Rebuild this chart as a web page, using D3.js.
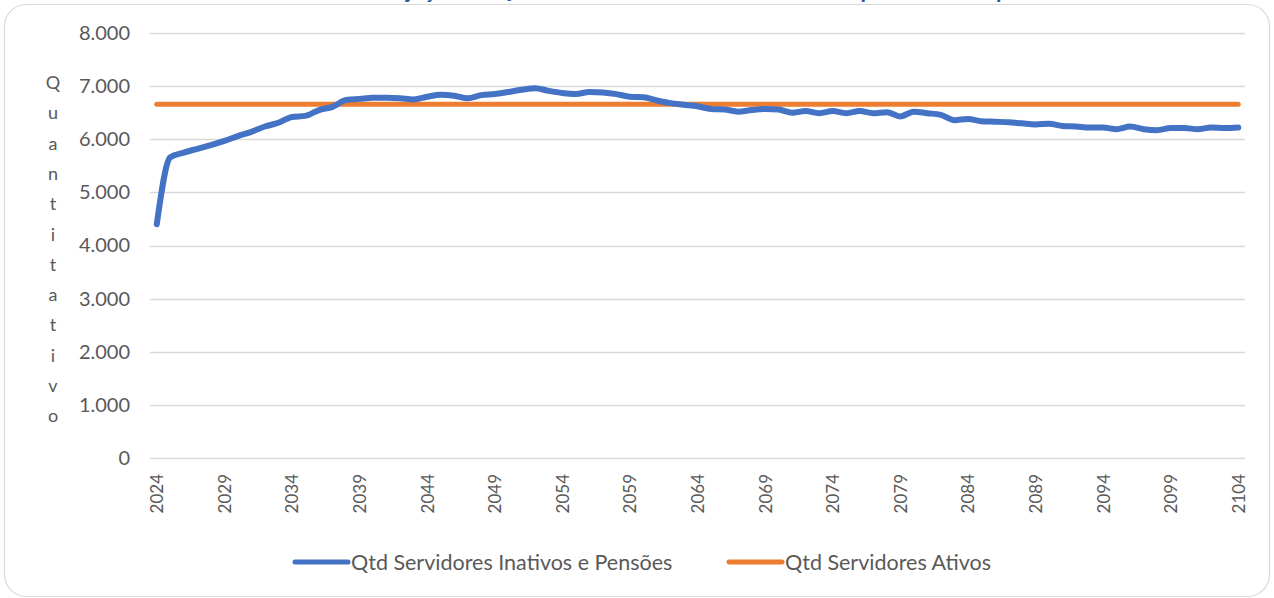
<!DOCTYPE html>
<html>
<head>
<meta charset="utf-8">
<script src="https://cdn.jsdelivr.net/npm/d3@7"></script>
<style>
  body { margin: 0; background: #fff; }
  svg { display: block; font-family: Lato, "Open Sans", sans-serif; }
</style>
</head>
<body>
<div class="chart"></div>
<script>
// anos 2024..2104
var years = d3.range(2024, 2105);

var inativos = [
  4400, 5660, 5750, 5820, 5890, 5970, 6060, 6140, 6240, 6310,
  6420, 6440, 6550, 6610, 6740, 6760, 6780, 6780, 6770, 6750,
  6800, 6840, 6820, 6770, 6830, 6850, 6890, 6930, 6960, 6910,
  6870, 6850, 6890, 6880, 6850, 6800, 6790, 6730, 6680, 6650,
  6620, 6570, 6560, 6520, 6550, 6570, 6560, 6500, 6530, 6490,
  6530, 6490, 6530, 6490, 6510, 6430, 6520, 6490, 6460, 6360,
  6380, 6340, 6330, 6320, 6300, 6280, 6290, 6250, 6240, 6220,
  6220, 6190, 6240, 6190, 6170, 6210, 6210, 6190, 6220, 6210,
  6220
];

var ativos = years.map(function () { return 6660; });

var yTicks = [0, 1000, 2000, 3000, 4000, 5000, 6000, 7000, 8000];
var xLabelYears = d3.range(2024, 2105, 5);
var seriesNames = ["Qtd Servidores Inativos e Pensões", "Qtd Servidores Ativos"];
var seriesColors = ["#4472C4", "#ED7D31"];
var yTitle = "Quantitativo";
var chartTitle = "Projeção do Quantitativo de Servidores Ativos x Aposentados e pensionistas";

var W = 1274, H = 598;
var plot = { left: 150, right: 1245, top: 33, bottom: 458 };

var svg = d3.select(".chart")
  .append("svg")
  .attr("width", W)
  .attr("height", H);

// moldura
svg.append("rect")
  .attr("x", 4.5).attr("y", 4.5)
  .attr("width", 1265).attr("height", 592)
  .attr("rx", 22)
  .attr("fill", "#fff")
  .attr("stroke", "#d9d9d9")
  .attr("stroke-width", 1.2);

// titulo (cortado no topo, como no original)
svg.append("text")
  .attr("x", 372).attr("y", -2)
  .attr("font-size", 22).attr("font-weight", "bold")
  .attr("fill", "#2F5597")
  .text(chartTitle);

var x = d3.scalePoint()
  .domain(years)
  .range([plot.left, plot.right])
  .padding(0.5);

var y = d3.scaleLinear()
  .domain([0, 8000])
  .range([plot.bottom, plot.top]);

var fmt = function (d) { return d3.format(",")(d).replace(/,/g, "."); };

// grade
svg.append("g")
  .selectAll("line")
  .data(yTicks)
  .join("line")
  .attr("x1", plot.left).attr("x2", plot.right)
  .attr("y1", d => Math.round(y(d)) + 0.5)
  .attr("y2", d => Math.round(y(d)) + 0.5)
  .attr("stroke", "#d9d9d9")
  .attr("stroke-width", 1.3);

// eixo y
var yAxis = svg.append("g")
  .attr("transform", "translate(" + plot.left + ",0)")
  .call(d3.axisLeft(y).tickValues(yTicks).tickFormat(fmt).tickSize(0).tickPadding(20));
yAxis.select(".domain").remove();
yAxis.selectAll("text")
  .attr("font-family", "Lato, sans-serif")
  .attr("font-size", 20)
  .attr("fill", "#595959");

// eixo x
var xAxis = svg.append("g")
  .attr("transform", "translate(0," + plot.bottom + ")")
  .call(d3.axisBottom(x).tickValues(xLabelYears).tickSize(0).tickPadding(0));
xAxis.select(".domain").remove();
xAxis.selectAll("text")
  .attr("font-family", "Lato, sans-serif")
  .attr("font-size", 17)
  .attr("fill", "#595959")
  .attr("transform", "rotate(-90)")
  .attr("text-anchor", "end")
  .attr("dy", "0.35em")
  .attr("x", -16)
  .attr("y", 0);

// titulo do eixo y, letras empilhadas
svg.append("g")
  .selectAll("text")
  .data(yTitle.split(""))
  .join("text")
  .attr("x", 53)
  .attr("y", (d, i) => 89 + i * 30.3)
  .attr("text-anchor", "middle")
  .attr("font-size", 18)
  .attr("fill", "#595959")
  .text(d => d);

// linhas
var line = d3.line()
  .x((d, i) => x(years[i]))
  .y(d => y(d))
  .curve(d3.curveMonotoneX);

svg.append("path")
  .datum(ativos)
  .attr("d", line)
  .attr("fill", "none")
  .attr("stroke", seriesColors[1])
  .attr("stroke-width", 5)
  .attr("stroke-linecap", "round")
  .attr("stroke-linejoin", "round");

svg.append("path")
  .datum(inativos)
  .attr("d", line)
  .attr("fill", "none")
  .attr("stroke", seriesColors[0])
  .attr("stroke-width", 6)
  .attr("stroke-linecap", "round")
  .attr("stroke-linejoin", "round");

// legenda
var legendPos = [293, 727];
var legend = svg.append("g")
  .selectAll("g")
  .data(seriesNames)
  .join("g")
  .attr("transform", (d, i) => "translate(" + legendPos[i] + ",562)");

legend.append("line")
  .attr("x1", 2).attr("x2", 55)
  .attr("stroke", (d, i) => seriesColors[i])
  .attr("stroke-width", 5)
  .attr("stroke-linecap", "round");

legend.append("text")
  .attr("x", 58)
  .attr("dy", "0.35em")
  .attr("font-size", 21.5)
  .attr("fill", "#595959")
  .text(d => d);
</script>
</body>
</html>
